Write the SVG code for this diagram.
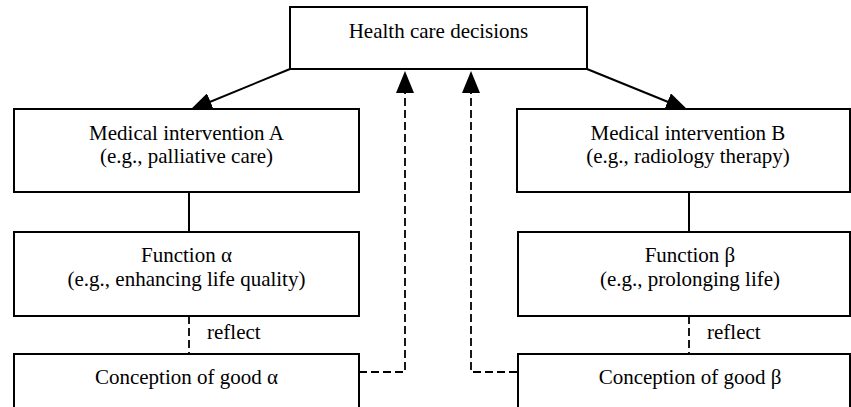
<svg xmlns="http://www.w3.org/2000/svg" width="851" height="407" viewBox="0 0 851 407">
  <style>
    text { font-family: "Liberation Serif", Tinos, "DejaVu Serif", serif; font-size: 21px; fill: #000; }
    .box { fill: #fff; stroke: #000; stroke-width: 2; }
    .lbl { text-anchor: middle; }
    .solid { fill: none; stroke: #000; stroke-width: 2; }
    .dash { fill: none; stroke: #000; stroke-width: 1.8; stroke-dasharray: 8 4; }
  </style>
  <defs>
    <marker id="head" viewBox="0 0 22 18" markerUnits="userSpaceOnUse" markerWidth="22" markerHeight="18" refX="14" refY="9" orient="auto">
      <path d="M0,0 L22,9 L0,18 z" fill="#000"/>
    </marker>
  </defs>
  <rect width="851" height="407" fill="#fff"/>

  <g id="connectors">
    <!-- decisions to the two interventions -->
    <line class="solid" x1="290" y1="69" x2="197.5" y2="107" marker-end="url(#head)"/>
    <line class="solid" x1="587" y1="69" x2="680.5" y2="107" marker-end="url(#head)"/>
    <!-- intervention to function -->
    <line class="solid" x1="189" y1="192" x2="189" y2="232"/>
    <line class="solid" x1="689" y1="192" x2="689" y2="232"/>
    <!-- function reflects conception -->
    <line class="dash" x1="189" y1="316" x2="189" y2="354"/>
    <line class="dash" x1="689" y1="316" x2="689" y2="354"/>
    <!-- conceptions feeding back to decisions -->
    <path class="dash" d="M359,372 H405 V79" marker-end="url(#head)"/>
    <path class="dash" d="M517,372 H471 V79" marker-end="url(#head)"/>
    <text x="207" y="339">reflect</text>
    <text x="707" y="339">reflect</text>
  </g>

  <g id="decisions">
    <rect class="box" x="290" y="7" width="297" height="62"/>
    <text class="lbl" x="438.5" y="38">Health care decisions</text>
  </g>

  <g id="intervention-a">
    <rect class="box" x="14" y="109" width="345" height="83"/>
    <text class="lbl" x="186.5" y="140">Medical intervention A</text>
    <text class="lbl" x="186.5" y="163">(e.g., palliative care)</text>
  </g>

  <g id="intervention-b">
    <rect class="box" x="517" y="109" width="333" height="83"/>
    <text class="lbl" x="688" y="140">Medical intervention B</text>
    <text class="lbl" x="688" y="163">(e.g., radiology therapy)</text>
  </g>

  <g id="function-alpha">
    <rect class="box" x="14" y="232" width="345" height="84"/>
    <text class="lbl" x="186.5" y="262">Function α</text>
    <text class="lbl" x="186.5" y="286">(e.g., enhancing life quality)</text>
  </g>

  <g id="function-beta">
    <rect class="box" x="518" y="232" width="332" height="84"/>
    <text class="lbl" x="690" y="262">Function β</text>
    <text class="lbl" x="690" y="286">(e.g., prolonging life)</text>
  </g>

  <g id="good-alpha">
    <rect class="box" x="14" y="354" width="345" height="80"/>
    <text class="lbl" x="186.5" y="384">Conception of good α</text>
  </g>

  <g id="good-beta">
    <rect class="box" x="518" y="354" width="332" height="80"/>
    <text class="lbl" x="690" y="384">Conception of good β</text>
  </g>
</svg>
